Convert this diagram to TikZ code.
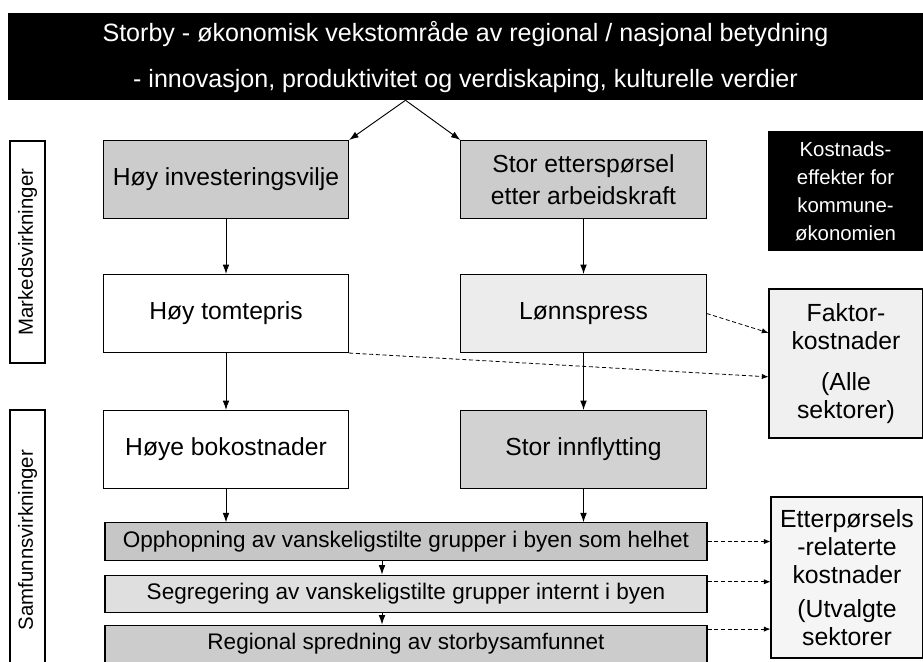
\documentclass[tikz,border=0pt]{standalone}
\usepackage{fontspec}
\setmainfont{Liberation Sans}
\usetikzlibrary{arrows.meta,positioning}

\begin{document}
\begin{tikzpicture}[x=0.75pt, y=-0.75pt,
    every node/.style={font=\fontsize{18.5}{24}\selectfont, align=center, inner sep=0pt},
    colbox/.style={draw, line width=0.8pt, minimum width=184pt, minimum height=58.5pt},
    bar/.style={draw, line width=0.8pt, minimum width=451.5pt, minimum height=28pt, font=\fontsize{16.9}{20}\selectfont},
    sidebox/.style={draw, line width=0.8pt, font=\fontsize{15.3}{21}\selectfont},
    costbox/.style={draw, line width=0.8pt, font=\fontsize{18.6}{21}\selectfont},
    arr/.style={-{Latex[length=7pt,width=5pt]}, line width=0.7pt},
    dasharr/.style={-{Latex[length=5pt,width=4pt]}, densely dashed, line width=0.6pt}
]
\useasboundingbox (0,0) rectangle (923,661);

\node[fill=black, text=white, minimum width=686.25pt, minimum height=65.25pt, font=\fontsize{18.8}{34.5}\selectfont] (top) at (465.5,56.5)
    {Storby - økonomisk vekstområde av regional / nasjonal betydning\\- innovasjon, produktivitet og verdiskaping, kulturelle verdier};

\node[sidebox, rotate=90, minimum width=166.5pt, minimum height=26.25pt] (marked) at (27.5,252) {Markedsvirkninger};
\node[sidebox, rotate=90, minimum width=195pt, minimum height=26.25pt] (samf) at (27.5,540) {Samfunnsvirkninger};

\node[colbox, fill=gray!40] (inv) at (226,179.5) {Høy investeringsvilje};
\node[colbox, fill=gray!40] (stor) at (583.5,179.5) {Stor etterspørsel\\etter arbeidskraft};
\node[colbox] (tomt) at (226,313.5) {Høy tomtepris};
\node[colbox, fill=gray!15] (lonn) at (583.5,313.5) {Lønnspress};
\node[colbox] (bokost) at (226,449.5) {Høye bokostnader};
\node[colbox, fill=gray!35] (innfl) at (583.5,449.5) {Stor innflytting};

\node[bar, fill=gray!45] (opph) at (406,541.5) {Opphopning av vanskeligstilte grupper i byen som helhet};
\node[bar, fill=gray!25] (segr) at (406,593.75) {Segregering av vanskeligstilte grupper internt i byen};
\node[bar, fill=gray!40] (reg) at (406,643.75) {Regional spredning av storbysamfunnet};

\node[sidebox, fill=black, text=white, minimum width=116pt, minimum height=88.5pt] (kost) at (845.5,191) {Kostnads-\\effekter for\\kommune-\\økonomien};
\node[costbox, fill=gray!12, minimum width=115.5pt, minimum height=111.75pt] (faktor) at (846,363.5) {Faktor-\\kostnader\\[10pt](Alle\\sektorer)};
\node[costbox, fill=gray!8, minimum width=114pt, minimum height=120.75pt] (etter) at (847,577.5) {Etterpørsels\\-relaterte\\kostnader\\[4pt](Utvalgte\\sektorer};

\draw[arr] ([xshift=-45pt]top.south) -- (inv.north east);
\draw[arr] ([xshift=-45pt]top.south) -- (stor.north west);
\draw[arr] (inv.south) -- (tomt.north);
\draw[arr] (tomt.south) -- (bokost.north);
\draw[arr] (bokost.south) -- (bokost.south |- opph.north);
\draw[arr] (stor.south) -- (lonn.north);
\draw[arr] (lonn.south) -- (innfl.north);
\draw[arr] (innfl.south) -- (innfl.south |- opph.north);
\draw[arr] ([xshift=-18pt]opph.south) -- ([xshift=-18pt]segr.north);
\draw[arr] ([xshift=-18pt]segr.south) -- ([xshift=-18pt]reg.north);

\draw[dasharr] (lonn.east) -- ([yshift=23pt]faktor.west);
\draw[dasharr] (tomt.south east) -- ([yshift=-10pt]faktor.west);
\draw[dasharr] (opph.east) -- (opph.east -| etter.west);
\draw[dasharr] ([yshift=9pt]segr.east) -- ([yshift=9pt]segr.east -| etter.west);
\draw[dasharr] ([yshift=11pt]reg.east) -- ([yshift=11pt]reg.east -| etter.west);
\end{tikzpicture}
\end{document}
